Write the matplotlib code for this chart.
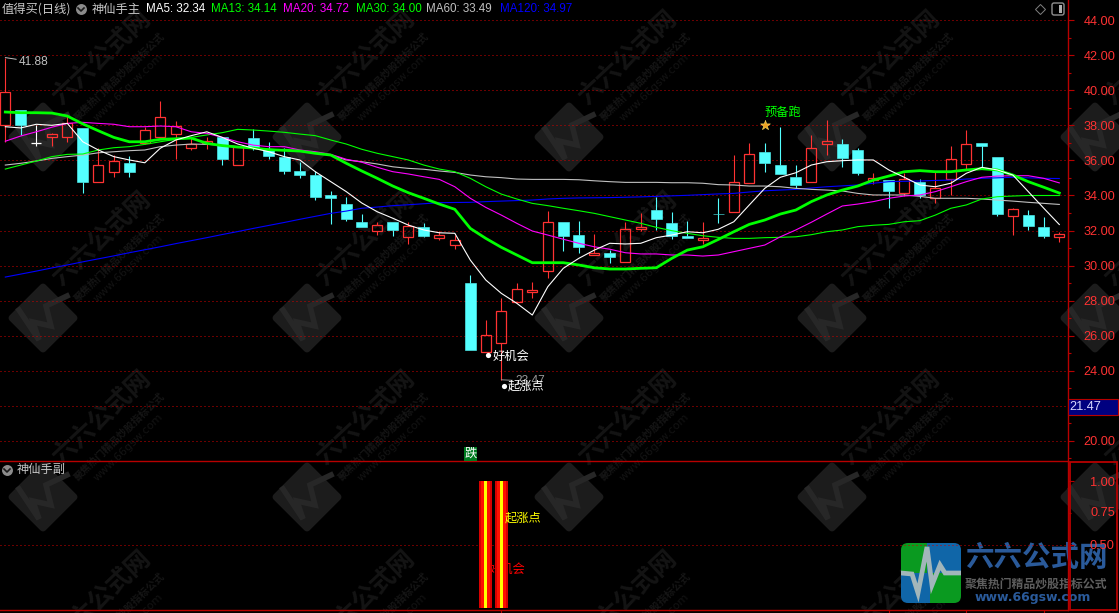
import matplotlib
matplotlib.use('Agg')
import matplotlib.pyplot as plt
import numpy as np
from matplotlib.patches import FancyBboxPatch, Polygon, Rectangle

plt.rcParams['font.family'] = ['Noto Sans CJK SC', 'DejaVu Sans']

# price data, one entry per trading day
opens = [38.01, 38.89, 37.02, 37.32, 37.36, 37.84, 34.79, 35.33, 35.86, 36.98, 37.36, 37.53, 36.73, 36.98,
         37.32, 35.76, 37.28, 36.60, 36.20, 35.40, 35.17, 34.03, 33.51, 32.48, 31.99, 32.48, 31.65, 32.20,
         31.59, 31.19, 29.00, 25.07, 25.55, 27.93, 28.47, 29.70, 32.48, 31.74, 30.60, 30.71, 30.22, 32.10,
         33.17, 32.43, 31.68, 31.46, 32.95, 33.07, 34.73, 36.48, 35.74, 35.06, 34.79, 36.96, 36.94, 36.60,
         34.87, 34.88, 34.12, 34.77, 33.84, 34.92, 35.82, 37.00, 36.20, 32.84, 32.88, 32.20, 31.65]
closes = [39.90, 38.03, 37.02, 37.50, 38.12, 34.79, 35.73, 35.99, 35.36, 37.72, 38.47, 37.95, 36.96, 37.10,
          36.10, 36.79, 36.73, 36.27, 35.40, 35.17, 33.93, 33.86, 32.67, 32.20, 32.31, 32.03, 32.26, 31.70,
          31.74, 31.44, 25.17, 26.01, 27.38, 28.64, 28.58, 32.47, 31.70, 31.07, 30.71, 30.50, 32.07, 32.22,
          32.66, 31.70, 31.57, 31.57, 32.93, 34.75, 36.35, 35.86, 35.23, 34.60, 36.70, 37.11, 36.14, 35.28,
          34.98, 34.26, 34.92, 34.03, 34.41, 36.07, 36.92, 36.83, 32.94, 33.23, 32.26, 31.68, 31.80]
highs = [41.88, 38.89, 38.03, 37.57, 38.60, 37.84, 36.70, 36.31, 36.26, 37.93, 39.40, 38.26, 37.27, 37.36,
         37.32, 36.79, 37.78, 37.06, 36.70, 35.93, 35.40, 34.26, 33.91, 32.94, 32.48, 32.48, 32.48, 32.41,
         31.97, 31.74, 29.46, 26.89, 28.13, 29.00, 29.06, 33.11, 32.48, 32.54, 31.80, 30.88, 32.48, 33.00,
         33.91, 33.06, 32.54, 32.48, 33.86, 36.31, 37.00, 37.00, 37.91, 35.74, 37.46, 38.31, 37.23, 36.71,
         35.28, 34.88, 35.28, 34.94, 35.34, 36.83, 37.74, 37.00, 36.20, 33.29, 33.17, 32.77, 31.91]
lows = [37.04, 37.46, 36.85, 36.85, 37.07, 34.16, 34.79, 35.07, 35.07, 36.94, 37.27, 36.10, 36.60, 36.66,
        35.76, 35.76, 36.60, 36.10, 35.24, 35.02, 33.76, 32.39, 32.56, 32.20, 31.74, 31.70, 31.25, 31.63,
        31.46, 30.94, 25.17, 25.07, 23.47, 27.93, 28.14, 29.30, 30.83, 30.71, 30.60, 30.14, 30.22, 31.97,
        32.03, 31.51, 31.57, 31.23, 32.43, 33.07, 34.73, 35.34, 35.23, 34.43, 34.79, 36.31, 35.63, 35.17,
        34.66, 33.29, 33.97, 33.86, 33.57, 34.03, 35.46, 35.64, 32.83, 31.74, 32.03, 31.57, 31.34]

ma5 = [37.93, 37.86, 38.07, 38.01, 38.12, 37.07, 36.60, 36.22, 36.03, 35.87, 36.70, 37.17, 37.42, 37.64,
       37.32, 36.94, 36.70, 36.50, 36.22, 36.03, 35.36, 34.79, 34.22, 33.57, 33.07, 32.70, 32.31, 32.03,
       31.87, 31.84, 30.31, 29.17, 28.41, 27.84, 27.17, 28.79, 29.84, 30.41, 30.88, 31.27, 31.23, 31.27,
       31.59, 31.74, 31.93, 31.87, 32.07, 32.50, 33.46, 34.41, 35.04, 35.30, 35.74, 35.93, 35.99, 36.03,
       36.03, 35.46, 35.04, 34.60, 34.50, 34.70, 35.27, 35.61, 35.46, 35.17, 34.22, 33.27, 32.34]
ma13 = [38.77, 38.73, 38.73, 38.71, 38.54, 38.09, 37.70, 37.32, 37.07, 37.07, 37.21, 37.24, 37.28, 36.98,
        36.85, 36.77, 36.71, 36.62, 36.58, 36.54, 36.41, 36.31, 35.84, 35.40, 34.98, 34.54, 34.16, 33.84,
        33.51, 33.21, 32.12, 31.55, 31.04, 30.60, 30.16, 30.16, 30.16, 30.03, 29.87, 29.80, 29.80, 29.84,
        29.87, 30.41, 30.88, 31.07, 31.49, 31.93, 32.35, 32.60, 32.94, 33.17, 33.65, 34.03, 34.31, 34.54,
        34.88, 35.11, 35.36, 35.42, 35.36, 35.36, 35.46, 35.53, 35.46, 35.17, 34.79, 34.47, 34.14]
ma20 = [37.10, 37.40, 37.64, 37.90, 38.12, 38.18, 38.12, 38.07, 37.93, 37.93, 37.97, 37.93, 37.64, 37.55,
        37.32, 37.07, 36.88, 36.79, 36.79, 36.60, 36.50, 36.35, 36.07, 35.90, 35.61, 35.36, 35.23, 35.07,
        34.92, 34.50, 33.84, 33.32, 32.88, 32.41, 31.97, 31.74, 31.50, 31.27, 31.07, 30.93, 30.73, 30.66,
        30.66, 30.60, 30.60, 30.54, 30.60, 30.79, 30.98, 31.17, 31.64, 32.03, 32.47, 32.94, 33.40, 33.51,
        33.65, 33.84, 33.97, 34.03, 34.22, 34.50, 34.79, 35.04, 35.11, 35.13, 35.13, 34.98, 34.72]
ma30 = [35.51, 35.74, 35.97, 36.22, 36.35, 36.37, 36.60, 36.73, 36.79, 36.92, 37.07, 37.21, 37.32, 37.46,
        37.59, 37.78, 37.74, 37.68, 37.61, 37.51, 37.42, 37.17, 36.94, 36.64, 36.41, 36.22, 36.03, 35.74,
        35.51, 35.36, 34.98, 34.50, 34.08, 33.80, 33.55, 33.42, 33.27, 33.13, 32.98, 32.79, 32.60, 32.41,
        32.18, 31.99, 31.84, 31.70, 31.61, 31.55, 31.55, 31.59, 31.61, 31.64, 31.76, 31.93, 32.03, 32.22,
        32.30, 32.35, 32.50, 32.56, 32.88, 33.27, 33.46, 33.80, 33.93, 33.97, 34.00, 34.00, 34.00]
ma60 = [35.74, 35.84, 35.97, 36.12, 36.22, 36.31, 36.44, 36.50, 36.56, 36.60, 36.79, 36.88, 36.94, 36.92,
        36.88, 36.79, 36.70, 36.64, 36.60, 36.56, 36.44, 36.31, 36.03, 35.93, 35.80, 35.64, 35.55, 35.50,
        35.40, 35.32, 35.17, 35.07, 35.02, 34.94, 34.92, 34.92, 34.92, 34.90, 34.84, 34.79, 34.75, 34.75,
        34.75, 34.73, 34.73, 34.70, 34.62, 34.60, 34.54, 34.54, 34.50, 34.41, 34.35, 34.31, 34.26, 34.12,
        34.03, 34.03, 34.03, 33.95, 33.84, 33.84, 33.84, 33.80, 33.74, 33.68, 33.61, 33.55, 33.49]
ma120 = [29.34, 29.51, 29.68, 29.86, 30.03, 30.21, 30.38, 30.55, 30.73, 30.90, 31.07, 31.25, 31.42, 31.59,
         31.77, 31.94, 32.12, 32.29, 32.46, 32.64, 32.81, 32.98, 33.11, 33.27, 33.34, 33.42, 33.47, 33.53,
         33.59, 33.60, 33.61, 33.65, 33.68, 33.71, 33.74, 33.80, 33.84, 33.86, 33.87, 33.88, 33.90, 33.92,
         33.95, 33.98, 34.01, 34.05, 34.09, 34.12, 34.20, 34.27, 34.31, 34.35, 34.43, 34.50, 34.55, 34.60,
         34.70, 34.79, 34.81, 34.83, 34.86, 34.88, 34.94, 34.98, 35.01, 35.04, 35.01, 34.98, 34.97]

# header legend
ma_labels = ['MA5: 32.34', 'MA13: 34.14', 'MA20: 34.72', 'MA30: 34.00', 'MA60: 33.49', 'MA120: 34.97']
ma_colors = ['#ffffff', '#00ff00', '#ff00ff', '#00ff00', '#c0c0c0', '#0000ff']
ma_label_x = [146, 211, 283, 356, 426, 500]

# sub panel signal
signal_days = [31, 32]
signal_values = [1, 1]
month_ticks = [32, 57, 62, 67]

W, H = 1119, 613
RED = '#ff3232'
CYAN = '#54ffff'
DARK_RED = '#b80000'
GRID_RED = '#d40000'
GREY = '#c0c0c0'


def pixel_axes(z):
    a = fig.add_axes([0, 0, 1, 1], zorder=z)
    a.set_xlim(0, W)
    a.set_ylim(H, 0)
    a.axis('off')
    a.patch.set_alpha(0)
    return a


def px_rect(left, top, right, bottom):
    return [left / W, 1 - bottom / H, (right - left) / W, (bottom - top) / H]


def watermark(a, cx, cy):
    a.add_patch(Polygon([(cx, cy - 31), (cx + 31, cy), (cx, cy + 31), (cx - 31, cy)], closed=True,
                        fc='#1c1c1c', ec='#1c1c1c', lw=5, joinstyle='round', zorder=1))
    a.plot([cx - 24, cx - 4, cx - 10, cx + 8, cx + 3, cx + 24], [cy - 8, cy + 22, cy + 4, cy + 8, cy - 12, cy - 22],
           color='#272727', lw=4, zorder=2, solid_joinstyle='miter')
    a.text(cx + 59, cy - 79, '六六公式网', color='#141414', fontsize=18, weight='bold', rotation=43,
           ha='center', va='center', rotation_mode='anchor', zorder=1, clip_on=True)
    a.text(cx + 77, cy - 60, '聚焦热门精品炒股指标公式', color='#151515', fontsize=7.3, weight='bold', rotation=44,
           ha='center', va='center', rotation_mode='anchor', zorder=1, clip_on=True)
    a.text(cx + 85, cy - 50, 'www.66gsw.com', color='#131313', fontsize=8, rotation=44, family='DejaVu Sans',
           ha='center', va='center', rotation_mode='anchor', zorder=1, clip_on=True)


def chevron(a, cx, cy):
    a.scatter([cx], [cy], s=62, color='#8c8c8c', lw=0, zorder=5)
    a.plot([cx - 3, cx, cx + 3], [cy - 1, cy + 2, cy - 1], color='#1a1a1a', lw=1.2, zorder=6)


fig = plt.figure(figsize=(W / 100, H / 100), dpi=100, facecolor='black')

# watermarks and logo sit behind the chart
bg = pixel_axes(0)
for wy in [137, 318, 497, 677]:
    for wx in [43, 307, 569, 832, 1095]:
        watermark(bg, wx, wy)

logo = FancyBboxPatch((905, 547), 52, 52, boxstyle='round,pad=4,rounding_size=7', fc='none', ec='none', zorder=7)
bg.add_patch(logo)
for x0, y0, w0, h0, col in [(901, 543, 26, 30, '#0a9a20'), (927, 543, 34, 30, '#1066a8'),
                            (901, 573, 29, 30, '#1066a8'), (930, 573, 31, 30, '#0a9a20')]:
    r = Rectangle((x0, y0), w0, h0, fc=col, ec='none', zorder=8)
    bg.add_patch(r)
    r.set_clip_path(logo)
pulse, = bg.plot([901, 912, 918, 927, 932, 940, 945, 961], [573, 574, 593, 547, 585, 565, 573, 573],
                 color='#a2b6ba', lw=3.4, zorder=9, solid_joinstyle='miter')
pulse.set_clip_path(logo)
bg.text(1036, 558, '六六公式网', color='#2a5a9a', fontsize=20.5, weight='bold', ha='center', va='center', zorder=9)
bg.text(1036, 584, '聚焦热门精品炒股指标公式', color='#5e5e5e', fontsize=8.6, weight='bold', ha='center', va='center', zorder=9)
bg.text(1033, 598, 'www.66gsw.com', color='#2a5a9a', fontsize=9, weight='bold', family='DejaVu Sans',
        ha='center', va='center', zorder=9)

# main price panel
ax = fig.add_axes(px_rect(0, 0, 1068, 461), zorder=1)
ax.patch.set_alpha(0)
days = np.arange(len(closes))
ax.set_xlim(-0.342, 68.56)
ax.set_ylim(18.83, 45.17)

for tick in range(20, 45, 2):
    ax.axhline(tick, color=GRID_RED, lw=0.72, ls=(0, (1, 3)), snap=True, zorder=1)

for d, o, c, h, l in zip(days, opens, closes, highs, lows):
    top, bottom = max(o, c), min(o, c)
    if c > o:
        col = RED
    elif c < o:
        col = CYAN
    else:
        col = '#ffffff'
    ax.vlines(d, top, h, color=col, lw=0.8, zorder=2)
    ax.vlines(d, l, bottom, color=col, lw=0.8, zorder=2)
    if c > o:
        ax.bar(d, top - bottom, 0.66, bottom, fc='none', ec=col, lw=0.9, zorder=2)
    elif c < o:
        ax.bar(d, top - bottom, 0.7, bottom, fc=col, ec=col, lw=0.4, zorder=2)
    else:
        ax.hlines(c, d - 0.33, d + 0.33, color=col, lw=0.9, zorder=2)

ax.plot(days, ma120, color='#0000ff', lw=0.8, zorder=3)
ax.plot(days, ma60, color=GREY, lw=0.8, zorder=3)
ax.plot(days, ma30, color='#00ff00', lw=0.8, zorder=3)
ax.plot(days, ma20, color='#ff00ff', lw=0.8, zorder=3)
ax.plot(days, ma13, color='#00ff00', lw=2.0, zorder=3)
ax.plot(days, ma5, color='#ffffff', lw=0.8, zorder=4)

ax.annotate('41.88', xy=(0, 41.88), xytext=(9.9, -3.2), textcoords='offset points', color=GREY, fontsize=8.6,
            family='Liberation Sans', va='center', arrowprops=dict(arrowstyle='-', color=GREY, lw=0.7, shrinkA=0, shrinkB=0))
ax.annotate('23.47', xy=(32, 23.47), xytext=(10, -1), textcoords='offset points', color='#9a9a9a', fontsize=8.6,
            family='Liberation Sans', va='center', arrowprops=dict(arrowstyle='-', color='#9a9a9a', lw=0.7, shrinkA=0, shrinkB=0))

ax.scatter([31.15, 32.15], [24.9, 23.1], s=14, color='#ffffff', lw=0, zorder=5)
ax.annotate('好机会', xy=(31.15, 24.9), xytext=(3, -1.2), textcoords='offset points', color='#ffffff', fontsize=8.8,
            va='center', zorder=6)
ax.annotate('起涨点', xy=(32.15, 23.1), xytext=(3, 0), textcoords='offset points', color='#ffffff', fontsize=8.8,
            va='center', zorder=6)
ax.text(48.95, 38.75, '预备跑', color='#00ff00', fontsize=8.8, ha='left', va='center', zorder=6)
ax.scatter([49], [38.0], marker='*', s=55, color='#f0a020', edgecolors='#ffe060', lw=0.4, zorder=6)
ax.text(30, 19.25, '跌', color='#ffffff', fontsize=8.8, ha='center', va='center', zorder=6,
        bbox=dict(boxstyle='square,pad=0.05', fc='#007a20', ec='none'))

ax.yaxis.tick_right()
ax.set_yticks(range(20, 45, 2))
ax.set_yticks(range(19, 45, 2), minor=True)
ax.set_yticklabels([f'{v:.2f}' for v in range(20, 45, 2)], family='Liberation Sans')
ax.tick_params(axis='y', which='major', colors=RED, labelsize=9.2, length=4.3, width=0.8, pad=7, color=DARK_RED)
ax.tick_params(axis='y', which='minor', length=2, width=0.8, color=DARK_RED)
ax.set_xticks([])
for side in ['top', 'left']:
    ax.spines[side].set_visible(False)
ax.spines['right'].set_color(DARK_RED)
ax.spines['bottom'].set_color(DARK_RED)
ax.spines['right'].set_linewidth(1)
ax.spines['bottom'].set_linewidth(1)

# sub panel with the two signal days
sub = fig.add_axes(px_rect(0, 462, 1068, 610), zorder=2)
sub.patch.set_alpha(0)
sub.set_xlim(-0.342, 68.56)
sub.set_ylim(-0.016, 1.15)
sub.axhline(0.5, color=GRID_RED, lw=0.72, ls=(0, (1, 3)), snap=True, zorder=1)
sub.text(31.2, 0.3, '好机会', color='#ff0000', fontsize=8.8, va='center', zorder=2)
sub.bar(signal_days, signal_values, 0.84, color='#d80000', zorder=3)
sub.bar(signal_days, signal_values, 0.58, color='#ff1000', zorder=4)
sub.bar(signal_days, signal_values, 0.2, color='#ffff00', zorder=5)
sub.text(32.2, 0.705, '起涨点', color='#ffff00', fontsize=8.8, va='center', zorder=6)
sub.yaxis.tick_right()
sub.set_yticks([0.5, 1.0])
sub.set_yticks([0.75], minor=True)
sub.set_yticklabels(['0.50', '1.00'], family='Liberation Sans')
sub.tick_params(axis='y', which='major', colors=RED, labelsize=9.2, length=4.3, width=0.8, pad=11.5, color=DARK_RED)
sub.tick_params(axis='y', which='minor', length=2, width=0.8, color=DARK_RED)
sub.set_xticks(month_ticks)
sub.set_xticklabels([])
sub.tick_params(axis='x', length=2.2, width=0.8, color=DARK_RED)
for side in ['top', 'left']:
    sub.spines[side].set_visible(False)
for side in ['right', 'bottom']:
    sub.spines[side].set_color(DARK_RED)
    sub.spines[side].set_linewidth(1)

# 0.75 is a plain text label next to a minor tick
sub.text(1.0206, 0.75, '0.75', color=RED, fontsize=9.2, family='Liberation Sans', va='center',
         transform=sub.get_yaxis_transform())

# header row, box around the sub scale, current price tag
top = pixel_axes(3)
top.text(2, 9, '值得买(日线)', color='#c8c8c8', fontsize=8.8, va='center')
chevron(top, 81, 9)
top.text(92, 9, '神仙手主', color='#c8c8c8', fontsize=8.8, va='center')
for label, col, lx in zip(ma_labels, ma_colors, ma_label_x):
    top.text(lx, 9, label, color=col, fontsize=8.4, family='Liberation Sans', va='center')
top.plot([1040], [9], marker='D', ms=5.5, mfc='none', mec='#808080', mew=0.7)
top.add_patch(FancyBboxPatch((1054, 5), 8, 8, boxstyle='round,pad=2,rounding_size=2', fc='none', ec='#909090', lw=1))
top.add_patch(Rectangle((1059, 5), 3, 8, fc='#b0b0b0', ec='none'))
chevron(top, 7, 470)
top.text(17, 470, '神仙手副', color='#c8c8c8', fontsize=8.8, va='center')
top.add_patch(Rectangle((1069.5, 461.5), 47.5, 148.5, fc='none', ec=DARK_RED, lw=1.3))
top.add_patch(Rectangle((1068, 398.5), 50, 16, fc='#000080', ec=DARK_RED, lw=0.8))
top.text(1069, 406.5, '21.47', color='#d8d8ff', fontsize=9.2, family='Liberation Sans', va='center')

fig.savefig('out.png', dpi=100, facecolor='black')
